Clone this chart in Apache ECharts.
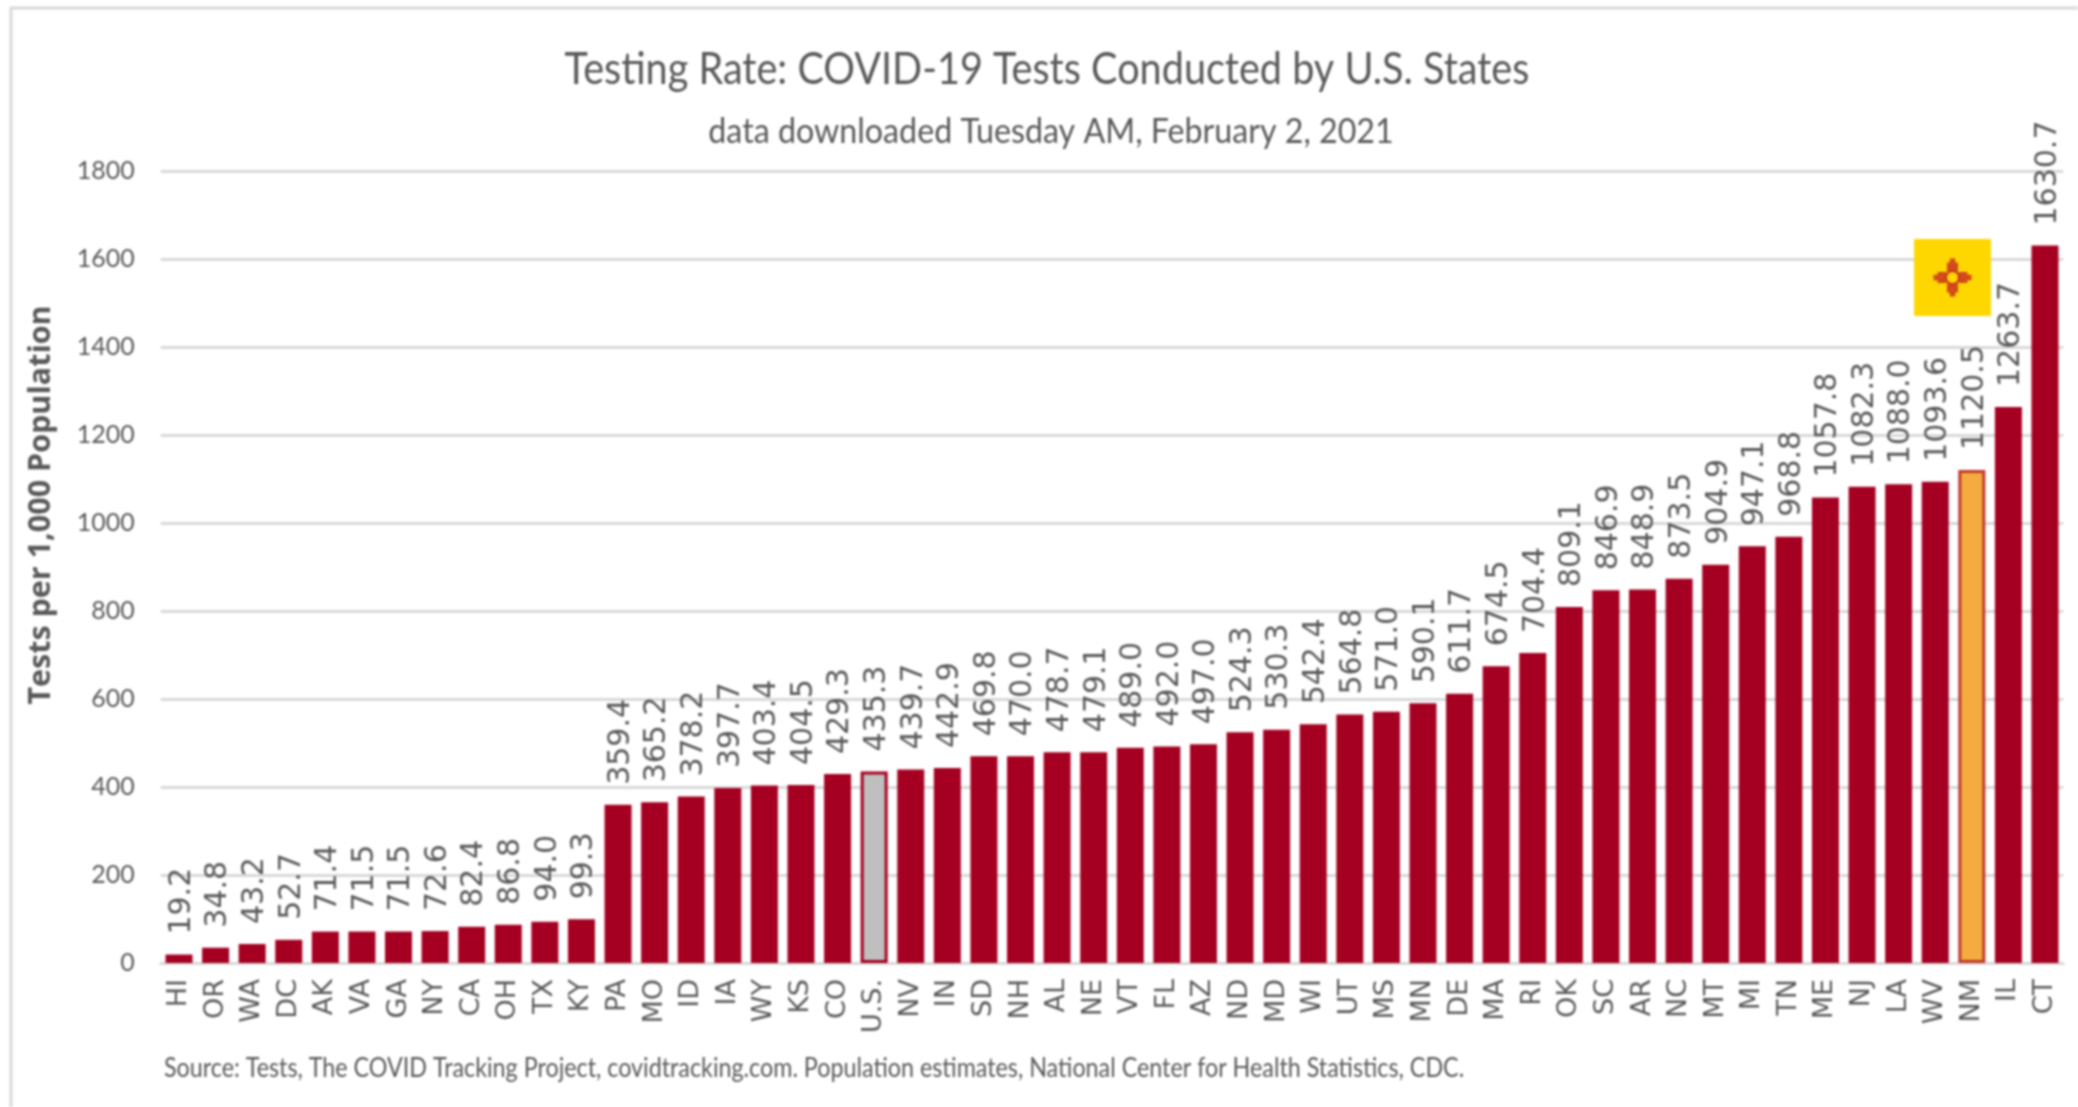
<!DOCTYPE html>
<html>
<head>
<meta charset="utf-8">
<title>Testing Rate</title>
<script src="https://cdn.jsdelivr.net/npm/echarts@6/dist/echarts.min.js"></script>
<style>
  html, body { margin: 0; padding: 0; background: #fff; }
  #main { width: 2078px; height: 1107px; filter: blur(0.8px); }
</style>
</head>
<body>
<div id="main"></div>
<script>
var states = ['HI','OR','WA','DC','AK','VA','GA','NY','CA','OH','TX','KY','PA','MO','ID','IA','WY','KS','CO','U.S.','NV','IN','SD','NH','AL','NE','VT','FL','AZ','ND','MD','WI','UT','MS','MN','DE','MA','RI','OK','SC','AR','NC','MT','MI','TN','ME','NJ','LA','WV','NM','IL','CT'];
var rates = [19.2,34.8,43.2,52.7,71.4,71.5,71.5,72.6,82.4,86.8,94.0,99.3,359.4,365.2,378.2,397.7,403.4,404.5,429.3,435.3,439.7,442.9,469.8,470.0,478.7,479.1,489.0,492.0,497.0,524.3,530.3,542.4,564.8,571.0,590.1,611.7,674.5,704.4,809.1,846.9,848.9,873.5,904.9,947.1,968.8,1057.8,1082.3,1088.0,1093.6,1120.5,1263.7,1630.7];
var yTicks = [0,200,400,600,800,1000,1200,1400,1600,1800];

var titleText = 'Testing Rate: COVID-19 Tests Conducted by U.S. States';
var subText = 'data downloaded Tuesday AM, February 2, 2021';
var sourceText = 'Source: Tests, The COVID Tracking Project, covidtracking.com. Population estimates, National Center for Health Statistics, CDC.';
var yName = 'Tests per 1,000 Population';

var red = '#a50021';
var grey = '#595959';

var barData = states.map(function(s, i) {
  var d = { value: rates[i] };
  if (s == 'U.S.') {
    d.itemStyle = { color: '#bfbfbf', borderColor: red, borderWidth: 3 };
  } else if (s == 'NM') {
    d.itemStyle = { color: '#f4ab3f', borderColor: '#c0392b', borderWidth: 3 };
  }
  return d;
});

// the reference font is narrower than Lato, so squeeze it a bit
function label(text, x, y, size, scaleX, align) {
  return {
    type: 'text', x: x, y: y, scaleX: scaleX,
    style: { text: text, fontFamily: 'Lato', fontSize: size, fill: grey, align: align, verticalAlign: 'middle' }
  };
}

// New Mexico flag, zia sun in the middle
function flag(cx, cy) {
  var kids = [{ type: 'rect', z: 10, shape: { x: -38.5, y: -38.5, width: 77, height: 77 }, style: { fill: '#ffd700' } }];
  var offs = [-4.2, -1.4, 1.4, 4.2];
  for (var a = 0; a < 4; a++) {
    offs.forEach(function(o) {
      var len = Math.abs(o) < 2 ? 19 : 15;
      kids.push({
        type: 'line',
        z: 11,
        rotation: a * Math.PI / 2,
        shape: { x1: o, y1: -6, x2: o, y2: -len },
        style: { stroke: '#c8321e', lineWidth: 2.4 }
      });
    });
  }
  kids.push({ type: 'circle', z: 12, shape: { cx: 0, cy: 0, r: 6.5 }, style: { fill: '#ffd700', stroke: '#c8321e', lineWidth: 2 } });
  return { type: 'group', x: cx, y: cy, children: kids };
}

var chart = echarts.init(document.getElementById('main'));
chart.setOption({
  animation: false,
  backgroundColor: '#fff',
  grid: { left: 160.7, right: 14.7, top: 171, bottom: 144 },
  xAxis: {
    type: 'category',
    data: states,
    axisTick: { show: false },
    axisLine: { lineStyle: { color: '#d9d9d9', width: 3 } },
    axisLabel: {
      interval: 0,
      rotate: 90,
      margin: 16,
      padding: [18, 0, 0, 0],
      fontFamily: 'DejaVu Sans',
      fontSize: 27,
      color: grey
    }
  },
  yAxis: {
    type: 'value',
    min: 0,
    max: 1800,
    interval: 200,
    axisLine: { show: false },
    axisTick: { show: false },
    splitLine: { lineStyle: { color: '#d9d9d9', width: 3 } },
    axisLabel: {
      margin: 26,
      fontFamily: 'Lato',
      fontSize: 25,
      color: grey,
      formatter: function(v) { return yTicks.indexOf(v) >= 0 ? String(v) : ''; }
    }
  },
  series: [{
    type: 'bar',
    data: barData,
    barWidth: 27,
    itemStyle: { color: red },
    label: {
      show: true,
      position: 'top',
      distance: 20,
      offset: [0, 3],
      rotate: 90,
      align: 'left',
      verticalAlign: 'middle',
      fontFamily: 'DejaVu Sans',
      fontSize: 30,
      color: grey,
      formatter: function(p) { return p.value.toFixed(1); }
    }
  }],
  graphic: [
    { type: 'polyline', shape: { points: [[11, 1107], [11, 8], [2078, 8]] }, style: { stroke: '#d9d9d9', lineWidth: 3, fill: null } },
    label(titleText, 1047, 70, 44, 0.9, 'center'),
    label(subText, 1051, 132, 34, 0.947, 'center'),
    label(sourceText, 164, 1069, 26, 0.896, 'left'),
    {
      type: 'text', x: 41, y: 505, rotation: Math.PI / 2,
      style: { text: yName, fontFamily: 'Open Sans', fontWeight: 'bold', fontSize: 30.5, fill: grey, align: 'center', verticalAlign: 'middle' }
    },
    flag(1952.5, 277.5)
  ]
});
</script>
</body>
</html>
